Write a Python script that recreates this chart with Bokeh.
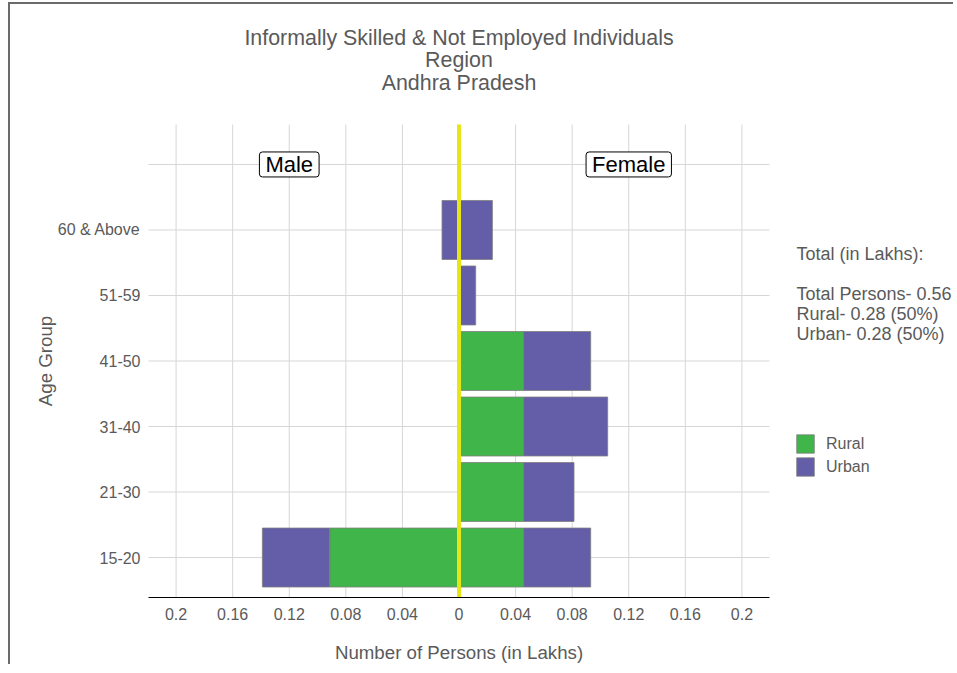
from math import pi
from bokeh.plotting import figure
from bokeh.models import Label, Legend, LegendItem, ColumnDataSource, Range1d
from bokeh.core.properties import value
from bokeh.embed import file_html
from bokeh.resources import INLINE

# ---------------- data ----------------
age_groups = ["15-20", "21-30", "31-40", "41-50", "51-59", "60 & Above"]
male_rural = [0.0914, 0.0, 0.0, 0.0, 0.0, 0.0]
male_urban = [0.0476, 0.0, 0.0, 0.0, 0.0, 0.012]
female_rural = [0.0457, 0.0457, 0.0457, 0.0457, 0.0, 0.0]
female_urban = [0.0474, 0.0356, 0.0594, 0.0474, 0.0118, 0.0236]
x_ticks = [-0.2, -0.16, -0.12, -0.08, -0.04, 0.0, 0.04, 0.08, 0.12, 0.16, 0.2]
x_tick_labels = ["0.2", "0.16", "0.12", "0.08", "0.04", "0", "0.04", "0.08", "0.12", "0.16", "0.2"]
title_lines = ["Informally Skilled & Not Employed Individuals", "Region", "Andhra Pradesh"]
summary_title = "Total (in Lakhs):"
summary_lines = ["Total Persons- 0.56", "Rural- 0.28 (50%)", "Urban- 0.28 (50%)"]
series_names = ["Rural", "Urban"]
gender_names = ["Male", "Female"]
x_axis_title = "Number of Persons (in Lakhs)"
y_axis_title = "Age Group"

GREEN = "#40b54a"
PURPLE = "#645da8"
TXT = "#5a5a5a"
FONT = "Liberation Sans"

# ---------------- layout (pixels on the canvas) ----------------
W, H = 945, 662                  # canvas size
PL, PR, PT, PB = 138, 759, 120, 593   # plot panel edges on the canvas
X0, X1 = -0.2195, 0.2195         # panel data limits
n = len(age_groups)
Y0, Y1 = 0.39, n + 1.61
ppx = (PR - PL) / (X1 - X0)
ppy = (PB - PT) / (Y1 - Y0)
xr = Range1d(X0 - PL / ppx, X1 + (W - PR) / ppx)
yr = Range1d(Y0 - (H - PB) / ppy, Y1 + PT / ppy)
def ypx(px):  # canvas pixel row -> data y
    return Y1 + (PT - px) / ppy
def xpx(px):
    return X0 + (px - PL) / ppx

ypos = [i + 1 for i in range(n)]

def segs(rural, urban, sign):
    rl, rr, ry, ul, ur, uy = [], [], [], [], [], []
    for y, r, u in zip(ypos, rural, urban):
        if r > 0:
            a, b = 0.0, sign * r
            rl.append(min(a, b)); rr.append(max(a, b)); ry.append(y)
        if u > 0:
            a, b = sign * r, sign * (r + u)
            ul.append(min(a, b)); ur.append(max(a, b)); uy.append(y)
    return (ColumnDataSource(dict(left=rl, right=rr, y=ry)),
            ColumnDataSource(dict(left=ul, right=ur, y=uy)))

m_r, m_u = segs(male_rural, male_urban, -1)
f_r, f_u = segs(female_rural, female_urban, 1)

p = figure(width=W, height=H, output_backend="svg", toolbar_location=None,
           x_range=xr, y_range=yr, x_axis_location=None, y_axis_location=None,
           min_border=0, background_fill_color="white", border_fill_color="white")
p.margin = (2, 0, 0, 8)
p.styles = {"border-top": "2px solid #6b6b6b", "border-left": "2px solid #6b6b6b"}
p.outline_line_color = None
p.xgrid.visible = False
p.ygrid.visible = False

# grid lines (from tick lists)
grid_color = "#d6d6d6"
p.segment(x0=x_ticks, x1=x_ticks, y0=[Y0] * len(x_ticks), y1=[Y1] * len(x_ticks),
          line_color=grid_color, line_width=1)
gy = ypos + [n + 1]
p.segment(x0=[X0] * len(gy), x1=[X1] * len(gy), y0=gy, y1=gy, line_color=grid_color, line_width=1)

bar_kw = dict(height=0.9, line_color="#7f7f7f", line_width=0.8)
r_rural = p.hbar(y="y", left="left", right="right", source=m_r, fill_color=GREEN, **bar_kw)
r_urban = p.hbar(y="y", left="left", right="right", source=m_u, fill_color=PURPLE, **bar_kw)
p.hbar(y="y", left="left", right="right", source=f_r, fill_color=GREEN, **bar_kw)
p.hbar(y="y", left="left", right="right", source=f_u, fill_color=PURPLE, **bar_kw)

# zero line and x axis line
p.segment(x0=[0], x1=[0], y0=[Y0], y1=[Y1], line_color="#e6e614", line_width=4)
p.segment(x0=[X0], x1=[X1], y0=[Y0], y1=[Y0], line_color="black", line_width=1)

# tick labels
p.text(x=x_ticks, y=[ypx(PB + 16)] * len(x_ticks), text=x_tick_labels, text_align="center",
       text_baseline="middle", text_font_size="16px", text_font=value(FONT), text_color=TXT)
p.text(x=[xpx(PL - 8)] * n, y=ypos, text=age_groups, text_align="right",
       text_baseline="middle", text_font_size="16px", text_font=value(FONT), text_color=TXT)

# axis titles
p.add_layout(Label(x=(X0 + X1) / 2, y=ypx(PB + 55), text=x_axis_title, text_align="center",
                   text_baseline="middle", text_font_size="18.7px", text_font=FONT, text_color=TXT))
p.add_layout(Label(x=xpx(35), y=(Y0 + Y1) / 2, text=y_axis_title, angle=pi / 2, text_align="center",
                   text_baseline="middle", text_font_size="18.7px", text_font=FONT, text_color=TXT))

# gender labels
for gx, name in zip([-0.12, 0.12], gender_names):
    p.add_layout(Label(x=gx, y=n + 1, text=name, text_align="center",
                       text_baseline="middle", text_font_size="22px", text_font=FONT,
                       text_color="black", border_line_color="black", border_line_width=1,
                       background_fill_color="white", padding=dict(top=0, bottom=0, left=6, right=6),
                       border_radius=3))

# title lines
for tyc, t in zip([33, 55, 78], title_lines):
    p.add_layout(Label(x=(X0 + X1) / 2, y=ypx(tyc), text=t, text_align="center", text_baseline="middle",
                       text_font_size="21.4px", text_font=FONT, text_color=TXT))

# summary text
SX = xpx(786)
p.add_layout(Label(x=SX, y=ypx(249), text=summary_title, text_align="left", text_baseline="middle",
                   text_font_size="18px", text_font=FONT, text_color=TXT))
for syc, s in zip([289, 309.5, 329], summary_lines):
    p.add_layout(Label(x=SX, y=ypx(syc), text=s, text_align="left", text_baseline="middle",
                       text_font_size="18px", text_font=FONT, text_color=TXT))

legend = Legend(items=[LegendItem(label=series_names[0], renderers=[r_rural]),
                       LegendItem(label=series_names[1], renderers=[r_urban])],
                location=(784, H - 474), glyph_width=22, glyph_height=23, spacing=0,
                padding=0, margin=0, label_standoff=10, label_text_font_size="16px",
                label_text_font=FONT, label_text_color=TXT, label_height=23,
                border_line_alpha=0, background_fill_alpha=0)
p.add_layout(legend, "center")

open("out.html", "w").write(file_html(p, INLINE))
